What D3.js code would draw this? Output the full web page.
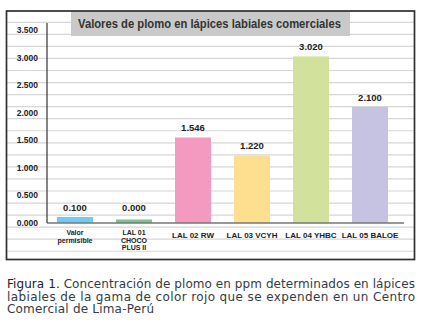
<!DOCTYPE html>
<html>
<head>
<meta charset="utf-8">
<script src="https://cdn.jsdelivr.net/npm/d3@7"></script>
<style>
body { margin: 0; background: #fff; }
</style>
</head>
<body>
<div id="chart"></div>
<script>
// chart data
var categories = [["Valor", "permisible"], ["LAL 01", "CHOCO", "PLUS II"], ["LAL 02 RW"], ["LAL 03 VCYH"], ["LAL 04 YHBC"], ["LAL 05 BALOE"]];
var values = [0.100, 0.000, 1.546, 1.220, 3.020, 2.100];
var barColors = ["#6dcdf3", "#7cc390", "#f49ac1", "#fddf8f", "#d2e29c", "#c6c3e2"];
var yTicks = [0, 0.5, 1, 1.5, 2, 2.5, 3, 3.5];
var title = "Valores de plomo en lápices labiales comerciales";
var captionLines = [
    "Concentración de plomo en ppm determinados en lápices",
    "labiales de la gama de color rojo que se expenden en un Centro",
    "Comercial de Lima-Perú"
];

var svgWidth = 426;
var svgHeight = 331;

var svg = d3.select("#chart")
    .append("svg")
    .attr("width", svgWidth)
    .attr("height", svgHeight);

var labelFont = "'Liberation Sans', Arial, sans-serif";

// frame
var frame = { left: 6.5, top: 11, right: 414.5, bottom: 259.5 };

// background stripes
svg.append("g")
    .selectAll("line")
    .data(d3.range(22.3, 253, 12.05))
    .enter()
    .append("line")
    .attr("x1", frame.left)
    .attr("x2", frame.right)
    .attr("y1", d => d)
    .attr("y2", d => d)
    .attr("stroke", "#d6d6d6")
    .attr("stroke-width", 1.2);

// title box
svg.append("rect")
    .attr("x", 71)
    .attr("y", frame.top)
    .attr("width", 279)
    .attr("height", 25)
    .attr("fill", "#c9c9c9");

svg.append("text")
    .attr("x", 78)
    .attr("y", 28)
    .attr("textLength", 263)
    .attr("lengthAdjust", "spacingAndGlyphs")
    .style("font-family", labelFont)
    .style("font-size", "12.5px")
    .style("font-weight", "bold")
    .attr("fill", "#333")
    .text(title);

svg.append("rect")
    .attr("x", frame.left)
    .attr("y", frame.top)
    .attr("width", frame.right - frame.left)
    .attr("height", frame.bottom - frame.top)
    .attr("fill", "none")
    .attr("stroke", "#2f2f2f")
    .attr("stroke-width", 1.7);

// scales
var keys = categories.map(c => c.join(" "));

var x = d3.scaleBand()
    .domain(keys)
    .range([45.5, 399.5])
    .paddingInner(0.39)
    .paddingOuter(0.195);

var y = d3.scaleLinear()
    .domain([0, 3.5])
    .range([222.5, 30]);

// y axis
var yAxis = svg.append("g")
    .attr("transform", "translate(47,0)")
    .call(d3.axisLeft(y).tickValues(yTicks).tickSize(0).tickPadding(9).tickFormat(d3.format(".3f")));
yAxis.select(".domain").remove();
yAxis.selectAll("text")
    .style("font-family", labelFont)
    .style("font-size", "8.5px")
    .style("font-weight", "bold")
    .attr("fill", "#222");

svg.append("line")
    .attr("x1", 47).attr("x2", 47)
    .attr("y1", y(3.5) - 7).attr("y2", y(0) + 0.5)
    .attr("stroke", "#333").attr("stroke-width", 1.2);

// bars
var data = keys.map((k, i) => ({ key: k, lines: categories[i], value: values[i], color: barColors[i] }));
var minTop = y(0) - 3;

svg.append("g")
    .selectAll("rect")
    .data(data)
    .enter()
    .append("rect")
    .attr("x", d => x(d.key))
    .attr("width", x.bandwidth())
    .attr("y", d => Math.min(y(d.value), minTop))
    .attr("height", d => y(0) - Math.min(y(d.value), minTop))
    .attr("fill", d => d.color);

// x axis line
svg.append("line")
    .attr("x1", 47).attr("x2", 404)
    .attr("y1", y(0) + 0.5).attr("y2", y(0) + 0.5)
    .attr("stroke", "#333").attr("stroke-width", 1.2);

// value labels
svg.append("g")
    .selectAll("text")
    .data(data)
    .enter()
    .append("text")
    .attr("x", d => x(d.key) + x.bandwidth() / 2)
    .attr("y", d => Math.min(y(d.value), y(0.1)) - 6)
    .attr("text-anchor", "middle")
    .style("font-family", labelFont)
    .style("font-size", "9.5px")
    .style("font-weight", "bold")
    .attr("fill", "#222")
    .text(d => d3.format(".3f")(d.value));

// category labels
var catLabels = svg.append("g")
    .selectAll("text")
    .data(data)
    .enter()
    .append("text")
    .attr("text-anchor", "middle")
    .attr("y", d => d.lines.length > 1 ? 235 : 237.5)
    .style("font-family", labelFont)
    .style("font-size", d => d.lines.length > 1 ? "7px" : "8px")
    .style("font-weight", "bold")
    .attr("fill", "#222");

catLabels.selectAll("tspan")
    .data(d => d.lines.map(l => ({ line: l, cx: x(d.key) + x.bandwidth() / 2 })))
    .enter()
    .append("tspan")
    .attr("x", d => d.cx)
    .attr("dy", (d, i) => i === 0 ? 0 : 7.6)
    .text(d => d.line);

// caption
var capWidths = [408, 408, 147];
var cap = svg.append("g")
    .style("font-family", "'DejaVu Sans', Verdana, sans-serif")
    .style("font-size", "12px")
    .attr("fill", "#353b42");

captionLines.forEach(function(line, i) {
    var t = cap.append("text")
        .attr("x", 7)
        .attr("y", 288 + i * 12.5)
        .attr("textLength", capWidths[i])
        .attr("lengthAdjust", "spacing");
    if (i === 0) {
        t.append("tspan").attr("fill", "#222").text("Figura 1. ");
    }
    t.append("tspan").text(line);
});
</script>
</body>
</html>
